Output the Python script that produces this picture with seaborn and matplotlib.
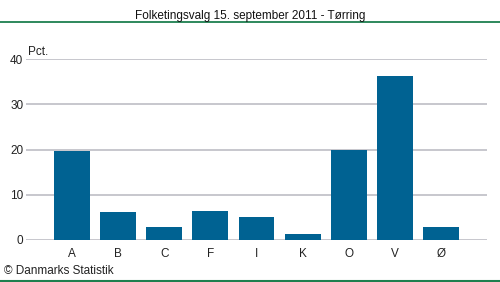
import matplotlib
matplotlib.use("Agg")
import matplotlib.pyplot as plt
import seaborn as sns
import pandas as pd

categories = ["A", "B", "C", "F", "I", "K", "O", "V", "Ø"]
values = [19.6, 6.2, 2.9, 6.5, 5.1, 1.3, 19.9, 36.2, 2.9]
yticks = [0, 10, 20, 30, 40]
title = "Folketingsvalg 15. september 2011 - Tørring"

sns.set_style("white")
plt.rcParams["font.family"] = ["Liberation Sans", "DejaVu Sans"]

df = pd.DataFrame({"cat": categories, "val": values})

fig = plt.figure(figsize=(5.0, 2.82), dpi=100)
ax = fig.add_axes([0.052, 0.149, 0.922, 0.641])

sns.barplot(data=df, x="cat", y="val", color="#006292", saturation=1,
            width=0.78, ax=ax, zorder=3, linewidth=0)

ax.set_xlim(-1, len(categories))
ax.set_ylim(0, 40)
ax.set_yticks(yticks)
ax.set_yticklabels([str(t) for t in yticks], fontsize=8.5, color="#222222")
ax.tick_params(axis="x", labelsize=8.5, colors="#222222", length=0, pad=6)
ax.tick_params(axis="y", length=0, pad=2)
ax.set_xlabel("")
ax.set_ylabel("")
ax.grid(axis="y", color="#BDBDC5", linewidth=1.2, zorder=0)
for s in ax.spines.values():
    s.set_visible(False)

ax.text(0.005, 1.005, "Pct.", transform=ax.transAxes, fontsize=8.5,
        color="#222222", ha="left", va="bottom")

fig.text(0.5, 0.945, title, ha="center", va="center", fontsize=8.5, color="#111111")
fig.add_artist(plt.Line2D([0, 1], [1 - 22 / 282, 1 - 22 / 282],
                          transform=fig.transFigure, color="#1E7F4F", linewidth=1.3))
fig.add_artist(plt.Line2D([0, 1], [1 - 281 / 282, 1 - 281 / 282],
                          transform=fig.transFigure, color="#1E7F4F", linewidth=1.5))
fig.text(0.008, 1 - 271 / 282, "© Danmarks Statistik", ha="left", va="center",
         fontsize=8.5, color="#222222")

fig.savefig("out.png", dpi=100)
